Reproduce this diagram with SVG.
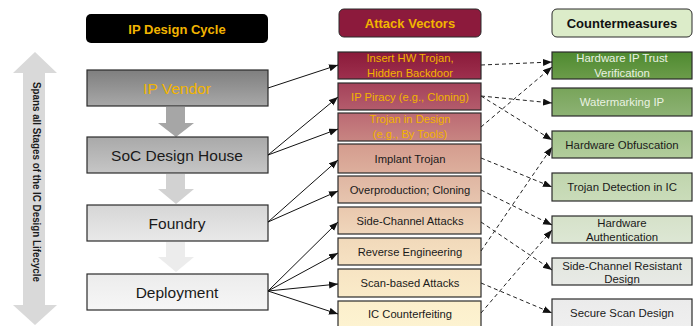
<svg xmlns="http://www.w3.org/2000/svg" width="693" height="326" viewBox="0 0 693 326">
  <style>
    .t { font-family: "Liberation Sans", Arial, sans-serif; text-anchor: middle; }
    .hd { font-weight: bold; font-size: 13px; }
    .stage { font-size: 15.5px; fill: #1a1a1a; }
    .av { font-size: 11.2px; fill: #1a1a1a; }
    .cm { font-size: 11.4px; fill: #1a1a1a; }
    .gold { fill: #f2b400; }
    .pale { fill: #eaf2e2; }
    .box { stroke: #2b2b2b; stroke-width: 1.2; }
    .solid { stroke: #111; stroke-width: 1; fill: none; marker-end: url(#ah); }
    .dash { stroke: #222; stroke-width: 1; fill: none; stroke-dasharray: 4 3; marker-end: url(#ah); }
  </style>
  <defs>
    <marker id="ah" markerUnits="userSpaceOnUse" markerWidth="10" markerHeight="8" refX="9" refY="3.5" orient="auto">
      <path d="M0,0 L9,3.5 L0,7 z" fill="#111"/>
    </marker>
    <linearGradient id="gV" x1="0" y1="0" x2="0" y2="1"><stop offset="0" stop-color="#7f7f7f"/><stop offset="1" stop-color="#a8a8a8"/></linearGradient>
    <linearGradient id="gS" x1="0" y1="0" x2="0" y2="1"><stop offset="0" stop-color="#a9a9a9"/><stop offset="1" stop-color="#c6c6c6"/></linearGradient>
    <linearGradient id="gF" x1="0" y1="0" x2="0" y2="1"><stop offset="0" stop-color="#d6d6d6"/><stop offset="1" stop-color="#e9e9e9"/></linearGradient>
    <linearGradient id="gD" x1="0" y1="0" x2="0" y2="1"><stop offset="0" stop-color="#ececec"/><stop offset="1" stop-color="#f6f6f6"/></linearGradient>
    <linearGradient id="a1" x1="0" y1="0" x2="0" y2="1"><stop offset="0" stop-color="#8a1a3a"/><stop offset="1" stop-color="#9e304e"/></linearGradient>
    <linearGradient id="a2" x1="0" y1="0" x2="0" y2="1"><stop offset="0" stop-color="#a4425a"/><stop offset="1" stop-color="#b45c6c"/></linearGradient>
    <linearGradient id="a3" x1="0" y1="0" x2="0" y2="1"><stop offset="0" stop-color="#bb6a74"/><stop offset="1" stop-color="#c88582"/></linearGradient>
    <linearGradient id="a4" x1="0" y1="0" x2="0" y2="1"><stop offset="0" stop-color="#d49c8e"/><stop offset="1" stop-color="#ddaf9d"/></linearGradient>
    <linearGradient id="a5" x1="0" y1="0" x2="0" y2="1"><stop offset="0" stop-color="#dfb6a2"/><stop offset="1" stop-color="#e7c5af"/></linearGradient>
    <linearGradient id="a6" x1="0" y1="0" x2="0" y2="1"><stop offset="0" stop-color="#e9c8ae"/><stop offset="1" stop-color="#f0d6bb"/></linearGradient>
    <linearGradient id="a7" x1="0" y1="0" x2="0" y2="1"><stop offset="0" stop-color="#f1d9ba"/><stop offset="1" stop-color="#f6e2c3"/></linearGradient>
    <linearGradient id="a8" x1="0" y1="0" x2="0" y2="1"><stop offset="0" stop-color="#f7e4c3"/><stop offset="1" stop-color="#faebc9"/></linearGradient>
    <linearGradient id="a9" x1="0" y1="0" x2="0" y2="1"><stop offset="0" stop-color="#fcefcc"/><stop offset="1" stop-color="#fdf3d1"/></linearGradient>
    <linearGradient id="c1" x1="0" y1="0" x2="0" y2="1"><stop offset="0" stop-color="#4e8a30"/><stop offset="1" stop-color="#6c9c4a"/></linearGradient>
    <linearGradient id="c2" x1="0" y1="0" x2="0" y2="1"><stop offset="0" stop-color="#78a45a"/><stop offset="1" stop-color="#8db274"/></linearGradient>
    <linearGradient id="c3" x1="0" y1="0" x2="0" y2="1"><stop offset="0" stop-color="#a2c38a"/><stop offset="1" stop-color="#b2cd9c"/></linearGradient>
    <linearGradient id="c4" x1="0" y1="0" x2="0" y2="1"><stop offset="0" stop-color="#c0d5ad"/><stop offset="1" stop-color="#cadcba"/></linearGradient>
    <linearGradient id="c5" x1="0" y1="0" x2="0" y2="1"><stop offset="0" stop-color="#d5e1c9"/><stop offset="1" stop-color="#dde7d4"/></linearGradient>
    <linearGradient id="c6" x1="0" y1="0" x2="0" y2="1"><stop offset="0" stop-color="#e2e6de"/><stop offset="1" stop-color="#e8eae6"/></linearGradient>
    <linearGradient id="c7" x1="0" y1="0" x2="0" y2="1"><stop offset="0" stop-color="#ebebeb"/><stop offset="1" stop-color="#efefef"/></linearGradient>
  </defs>

  <!-- lifecycle span arrow -->
  <g id="lifecycle-span">
    <path d="M35,52 L57,73 L45,73 L45,305 L57,305 L35,325 L13,305 L23,305 L23,73 L13,73 z" fill="#d9d9d9"/>
    <text class="t" transform="translate(33,182) rotate(90)" font-weight="bold" font-size="10.5" fill="#1a1a1a" textLength="200" lengthAdjust="spacingAndGlyphs">Spans all Stages of the IC Design Lifecycle</text>
  </g>

  <!-- column headers -->
  <g id="hdr-cycle">
    <rect x="86" y="14" width="182" height="29" rx="5" fill="#000"/>
    <text class="t hd gold" x="177" y="33.5" font-size="13.5">IP Design Cycle</text>
  </g>
  <g id="hdr-attacks">
    <rect x="339" y="9" width="142" height="28" rx="5" fill="#8c1a3c" stroke="#2b2b2b" stroke-width="1"/>
    <text class="t hd gold" x="410" y="28" font-size="13.5">Attack Vectors</text>
  </g>
  <g id="hdr-counter">
    <rect x="552" y="9" width="140" height="28" rx="5" fill="#dcecc9" stroke="#2b2b2b" stroke-width="1"/>
    <text class="t hd" x="622" y="28" fill="#111">Countermeasures</text>
  </g>

  <!-- stage flow arrows -->
  <g id="stage-arrows">
    <path d="M166,107 L185,107 L185,123 L194,123 L176,137 L158,123 L166,123 z" fill="#a6a6a6"/>
    <path d="M166,174 L185,174 L185,189 L194,189 L176,204 L158,189 L166,189 z" fill="#d2d2d2"/>
    <path d="M166,242 L185,242 L185,257 L194,257 L176,272 L158,257 L166,257 z" fill="#ececec"/>
  </g>

  <!-- lifecycle stages -->
  <g id="ip-vendor">
    <rect class="box" x="87" y="70" width="181" height="36" fill="url(#gV)"/>
    <text class="t stage gold" x="177" y="94">IP Vendor</text>
  </g>
  <g id="soc-design-house">
    <rect class="box" x="87" y="137" width="181" height="36" fill="url(#gS)"/>
    <text class="t stage" x="177" y="161">SoC Design House</text>
  </g>
  <g id="foundry">
    <rect class="box" x="87" y="205" width="181" height="36" fill="url(#gF)"/>
    <text class="t stage" x="177" y="229">Foundry</text>
  </g>
  <g id="deployment">
    <rect class="box" x="87" y="274" width="181" height="36" fill="url(#gD)"/>
    <text class="t stage" x="177" y="298">Deployment</text>
  </g>

  <!-- attack vectors -->
  <g id="av-insert-trojan">
    <rect class="box" x="338" y="52" width="143" height="27" fill="url(#a1)"/>
    <text class="t av gold" x="410" y="62">Insert HW Trojan,</text>
    <text class="t av gold" x="410" y="77">Hidden Backdoor</text>
  </g>
  <g id="av-ip-piracy">
    <rect class="box" x="338" y="83" width="143" height="27" fill="url(#a2)"/>
    <text class="t av gold" x="410" y="100.5">IP Piracy (e.g., Cloning)</text>
  </g>
  <g id="av-trojan-design">
    <rect class="box" x="338" y="113" width="143" height="28" fill="url(#a3)"/>
    <text class="t av gold" x="410" y="123">Trojan in Design</text>
    <text class="t av gold" x="410" y="138">(e.g., By Tools)</text>
  </g>
  <g id="av-implant-trojan">
    <rect class="box" x="338" y="144" width="143" height="29" fill="url(#a4)"/>
    <text class="t av" x="410" y="162.5">Implant Trojan</text>
  </g>
  <g id="av-overproduction">
    <rect class="box" x="338" y="176" width="143" height="27" fill="url(#a5)"/>
    <text class="t av" x="410" y="193.5">Overproduction; Cloning</text>
  </g>
  <g id="av-side-channel">
    <rect class="box" x="338" y="207" width="143" height="27" fill="url(#a6)"/>
    <text class="t av" x="410" y="224.5">Side-Channel Attacks</text>
  </g>
  <g id="av-reverse-eng">
    <rect class="box" x="338" y="238" width="143" height="27" fill="url(#a7)"/>
    <text class="t av" x="410" y="255.5">Reverse Engineering</text>
  </g>
  <g id="av-scan-based">
    <rect class="box" x="338" y="269" width="143" height="28" fill="url(#a8)"/>
    <text class="t av" x="410" y="287">Scan-based Attacks</text>
  </g>
  <g id="av-counterfeiting">
    <rect class="box" x="338" y="301" width="143" height="28" fill="url(#a9)"/>
    <text class="t av" x="410" y="318">IC Counterfeiting</text>
  </g>

  <!-- countermeasures -->
  <g id="cm-trust-verification">
    <rect class="box" x="552" y="52" width="140" height="27" fill="url(#c1)" stroke="#3a3a3a"/>
    <text class="t cm pale" x="622" y="62">Hardware IP Trust</text>
    <text class="t cm pale" x="622" y="77">Verification</text>
  </g>
  <g id="cm-watermarking">
    <rect class="box" x="552" y="88" width="140" height="28" fill="url(#c2)" stroke="#3a3a3a"/>
    <text class="t cm pale" x="622" y="106">Watermarking IP</text>
  </g>
  <g id="cm-obfuscation">
    <rect class="box" x="552" y="131" width="140" height="27" fill="url(#c3)" stroke="#3a3a3a"/>
    <text class="t cm" x="622" y="148.5">Hardware Obfuscation</text>
  </g>
  <g id="cm-trojan-detection">
    <rect class="box" x="552" y="173" width="140" height="28" fill="url(#c4)" stroke="#3a3a3a"/>
    <text class="t cm" x="622" y="191">Trojan Detection in IC</text>
  </g>
  <g id="cm-authentication">
    <rect class="box" x="552" y="216" width="140" height="27" fill="url(#c5)" stroke="#3a3a3a"/>
    <text class="t cm" x="622" y="227">Hardware</text>
    <text class="t cm" x="622" y="241">Authentication</text>
  </g>
  <g id="cm-side-channel-resistant">
    <rect class="box" x="552" y="258" width="140" height="27" fill="url(#c6)" stroke="#3a3a3a"/>
    <text class="t cm" x="622" y="269.5">Side-Channel Resistant</text>
    <text class="t cm" x="622" y="283">Design</text>
  </g>
  <g id="cm-secure-scan">
    <rect class="box" x="552" y="299" width="140" height="29" fill="url(#c7)" stroke="#3a3a3a"/>
    <text class="t cm" x="622" y="317">Secure Scan Design</text>
  </g>

  <!-- connectors -->
  <g id="connectors">
    <line class="solid" x1="268" y1="88" x2="338" y2="65"/>
    <line class="solid" x1="268" y1="155" x2="338" y2="97"/>
    <line class="solid" x1="268" y1="155" x2="338" y2="129"/>
    <line class="solid" x1="268" y1="222" x2="338" y2="160"/>
    <line class="solid" x1="268" y1="222" x2="338" y2="191"/>
    <line class="solid" x1="268" y1="291" x2="338" y2="222"/>
    <line class="solid" x1="268" y1="291" x2="338" y2="253"/>
    <line class="solid" x1="268" y1="291" x2="338" y2="284"/>
    <line class="solid" x1="268" y1="291" x2="338" y2="314"/>

    <line class="dash" x1="481" y1="65" x2="552" y2="62"/>
    <line class="dash" x1="481" y1="96" x2="552" y2="103"/>
    <line class="dash" x1="481" y1="96" x2="552" y2="140"/>
    <line class="dash" x1="481" y1="127" x2="552" y2="67"/>
    <line class="dash" x1="481" y1="158" x2="552" y2="187"/>
    <line class="dash" x1="481" y1="190" x2="552" y2="225"/>
    <line class="dash" x1="481" y1="222" x2="552" y2="270"/>
    <line class="dash" x1="481" y1="251" x2="552" y2="147"/>
    <line class="dash" x1="481" y1="283" x2="552" y2="313"/>
    <line class="dash" x1="481" y1="313" x2="552" y2="230"/>
  </g>
</svg>
